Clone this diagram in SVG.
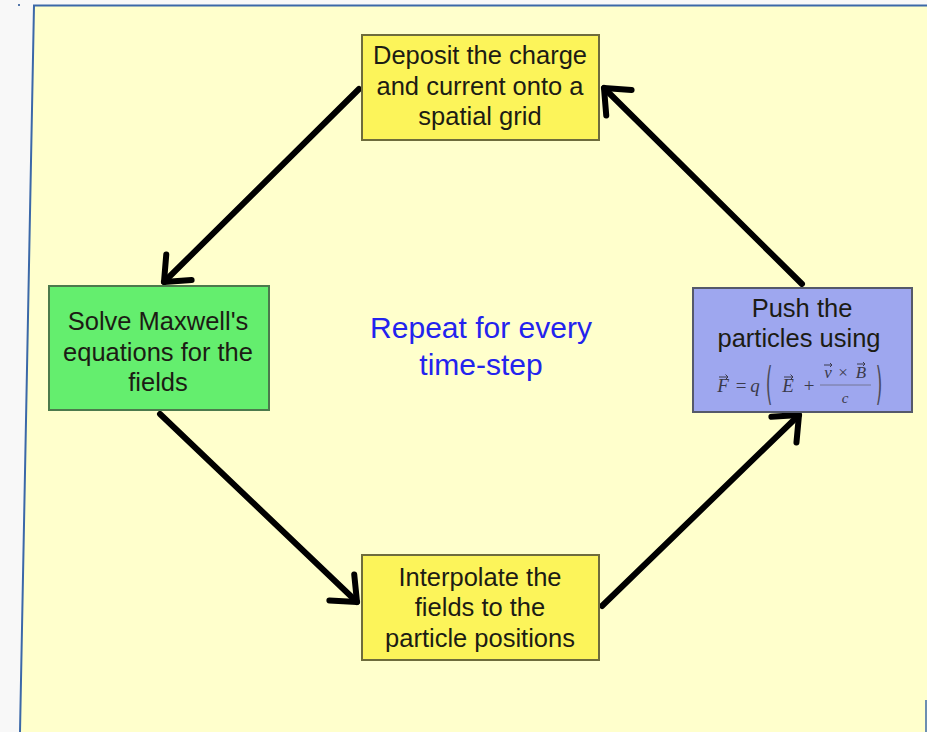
<svg xmlns="http://www.w3.org/2000/svg" width="927" height="732" viewBox="0 0 927 732">
<defs>
<style>
.box text{font-family:"Liberation Sans",Arial,sans-serif;font-size:25.5px;fill:#1c1c14;text-anchor:middle}
.box text.m{font-family:"Liberation Serif","Times New Roman",serif;font-style:italic;fill:#3a3a4a;font-size:19px}
.box text.s{font-size:17px}
.box text.n{font-style:normal}
.box text.p{font-family:"DejaVu Sans","Liberation Sans",sans-serif;font-style:normal;font-size:17px;fill:#4a4a58}
.vec{fill:none;stroke:#3a3a4a;stroke-width:1}
.conn line{stroke:#000;stroke-width:6;stroke-linecap:round}
</style>
<marker id="arr" markerUnits="userSpaceOnUse" viewBox="-30 -25 40 50" markerWidth="40" markerHeight="50" refX="0" refY="0" orient="auto">
<path d="M-21,-18 L0,0 L-21,18" fill="none" stroke="#000" stroke-width="6" stroke-linecap="round" stroke-linejoin="round"/>
</marker>
</defs>
<rect x="0" y="0" width="927" height="732" fill="#f8f8f8"/>
<polygon points="34,5 927,5 927,732 20,732" fill="#ffffcc"/>
<polyline points="20,732 34,5.5 927,5.5" fill="none" stroke="#3b68a8" stroke-width="2"/>
<line x1="926" y1="700" x2="926" y2="732" stroke="#3b68a8" stroke-width="1.5"/>
<rect x="18" y="4" width="2" height="2" fill="#5577aa"/>

<g class="conn">
<line x1="359" y1="89" x2="164" y2="282" marker-end="url(#arr)"/>
<line x1="160" y1="414" x2="357" y2="602" marker-end="url(#arr)"/>
<line x1="602" y1="606" x2="799" y2="415" marker-end="url(#arr)"/>
<line x1="802" y1="284" x2="604" y2="88" marker-end="url(#arr)"/>
</g>

<g id="deposit" class="box">
<rect x="362" y="35" width="237" height="105" fill="#fcf45a" stroke="#6e6c3c" stroke-width="2"/>
<text x="480" y="64">Deposit the charge</text>
<text x="480" y="95">and current onto a</text>
<text x="480" y="125">spatial grid</text>
</g>

<g id="solve" class="box">
<rect x="49" y="286" width="220" height="124" fill="#64ee6e" stroke="#4c7a4c" stroke-width="2"/>
<text x="158" y="330">Solve Maxwell's</text>
<text x="158" y="361">equations for the</text>
<text x="158" y="391">fields</text>
</g>

<g id="interpolate" class="box">
<rect x="362" y="555" width="237" height="105" fill="#fcf45a" stroke="#6e6c3c" stroke-width="2"/>
<text x="480" y="586">Interpolate the</text>
<text x="480" y="616">fields to the</text>
<text x="480" y="647">particle positions</text>
</g>

<g id="push" class="box">
<rect x="693" y="288" width="219" height="124" fill="#9ea7ef" stroke="#55596a" stroke-width="2"/>
<text x="802" y="317">Push the</text>
<text x="799" y="347">particles using</text>
<text class="m" x="723" y="392">F</text>
<path class="vec" d="M719,377 h9 m-2.5,-2.5 l2.5,2.5 l-2.5,2.5"/>
<text class="m n" x="741" y="392">=</text>
<text class="m" x="755" y="392">q</text>
<text class="p" x="0" y="0" transform="translate(769,399) scale(1,2.6)">(</text>
<text class="m" x="788" y="392">E</text>
<path class="vec" d="M784,377 h9 m-2.5,-2.5 l2.5,2.5 l-2.5,2.5"/>
<text class="m n" x="809" y="392">+</text>
<text class="m s" x="828" y="378">v</text>
<path class="vec" d="M824,365 h8 m-2,-2 l2,2 l-2,2"/>
<text class="m s n" x="843" y="378">×</text>
<text class="m s" x="861" y="378">B</text>
<path class="vec" d="M857,364 h8 m-2,-2 l2,2 l-2,2"/>
<line x1="820" y1="385" x2="871" y2="385" stroke="#6a6a80" stroke-width="0.8"/>
<text class="m s" x="845" y="403" style="font-size:15px">c</text>
<text class="p" x="0" y="0" transform="translate(879,399) scale(1,2.6)">)</text>
</g>

<g id="repeat-label">
<text x="481" y="338" font-family="'Liberation Sans',Arial,sans-serif" font-size="30" fill="#2323ee" text-anchor="middle">Repeat for every</text>
<text x="481" y="375" font-family="'Liberation Sans',Arial,sans-serif" font-size="30" fill="#2323ee" text-anchor="middle">time-step</text>
</g>
</svg>
